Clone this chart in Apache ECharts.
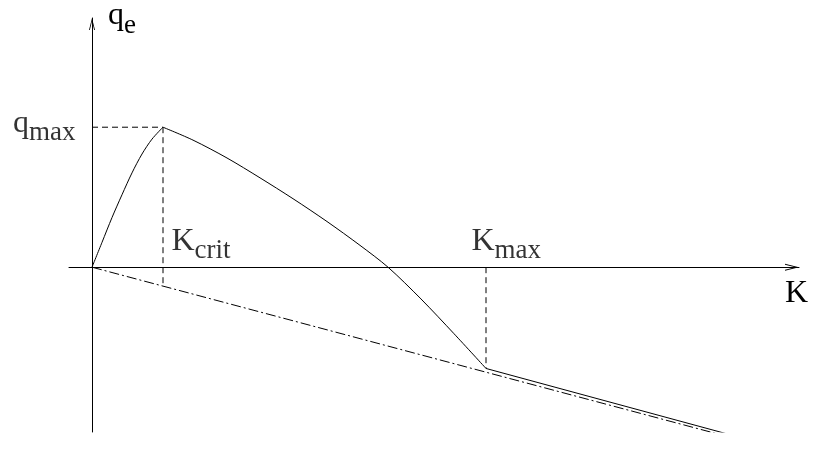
<!DOCTYPE html>
<html>
<head>
<meta charset="utf-8">
<script src="https://cdn.jsdelivr.net/npm/echarts@6/dist/echarts.min.js"></script>
<style>
  html, body { margin: 0; padding: 0; background: #fff; }
  #chart { width: 813px; height: 452px; }
</style>
</head>
<body>
<div id="chart"></div>
<script>
// Effective stiffness q_e as a function of K (schematic units)
const kRise = [0, 1, 2, 3, 4, 5, 6, 7.1];
const qRise = [0, 2.5, 5.0, 7.3, 9.5, 11.4, 12.9, 14.1];
const kFall = [7.1, 10.1, 13.5, 16.8, 20.1, 23.5, 26.8, 29.6, 32.9, 36.2, 39.4];
const qFall = [14.1, 12.8, 11.0, 9.0, 6.9, 4.6, 2.2, 0, -3.2, -6.7, -10.2];
const kTail = [39.4, 68.3];
const qTail = [-10.2, -18.1];
// dash-dot reference line through the origin
const kBase = [0, 67.8];
const qBase = [0, -18.2];
// characteristic values
const kCrit = 7.1;
const kMax = 39.4;
const qMax = 14.1;
const qCritBase = -2.0;
const qKmax = -10.2;
// axis extents
const kRange = [-2.3, 70.7];
const qRange = [-16.6, 25.1];

const FONT = 'Liberation Serif';
const zip = (xs, ys) => xs.map((x, i) => [x, ys[i]]);

// symbol with lowered subscript
function richText() {
  return {
    b: { fontFamily: FONT, fontSize: 32, color: '#000', lineHeight: 32, padding: [0, 0, 7, 0], verticalAlign: 'bottom' },
    s: { fontFamily: FONT, fontSize: 27, color: '#000', lineHeight: 27, verticalAlign: 'bottom' }
  };
}

// open chevron arrow head, tip pointing up
const chevron = 'path://M5,0 L10,20 L8.6,20 L5,5.6 L1.4,20 L0,20 Z';

const solid = { color: '#000', width: 1 };
const dashed = { color: '#000', width: 1, type: [6, 4] };
const dashDot = { color: '#000', width: 1, type: [10, 3, 2, 3] };

function lineSeries(data, style, extra) {
  return Object.assign({
    type: 'line', data: data, symbol: 'none', silent: true, clip: false,
    lineStyle: style
  }, extra || {});
}

const chart = echarts.init(document.getElementById('chart'));
chart.setOption({
  backgroundColor: '#fff',
  animationDuration: 150,
  animationEasing: 'linear',
  grid: { left: 69, right: 14, top: 15, bottom: 20, containLabel: false },
  xAxis: {
    type: 'value', min: kRange[0], max: kRange[1],
    splitLine: { show: false }, axisTick: { show: false }, axisLabel: { show: false },
    axisLine: {
      onZero: true, lineStyle: { color: '#000', width: 1 },
      symbol: ['none', chevron], symbolSize: [7, 14], symbolOffset: [0, -7]
    },
    name: 'K', nameLocation: 'end', nameGap: 9,
    nameTextStyle: { fontFamily: FONT, fontSize: 32, color: '#000', align: 'right', verticalAlign: 'top', padding: [10, 0, 0, 0] }
  },
  yAxis: {
    type: 'value', min: qRange[0], max: qRange[1],
    splitLine: { show: false }, axisTick: { show: false }, axisLabel: { show: false },
    axisLine: {
      onZero: true, lineStyle: { color: '#000', width: 1 },
      symbol: ['none', chevron], symbolSize: [6, 12], symbolOffset: [0, -6]
    },
    name: '{b|q}{s|e}', nameLocation: 'end', nameGap: -21,
    nameTextStyle: { fontFamily: FONT, rich: richText(), align: 'left', verticalAlign: 'bottom', padding: [0, 0, 0, 16] }
  },
  series: [
    lineSeries(zip(kRise, qRise), solid, { smooth: 0.3 }),
    lineSeries(zip(kFall, qFall), solid, { smooth: 0.3 }),
    lineSeries(zip(kTail, qTail), solid),
    lineSeries(zip(kBase, qBase), dashDot),
    lineSeries([[0, qMax], [kCrit, qMax]], dashed),
    lineSeries([[kCrit, qMax], [kCrit, qCritBase]], dashed),
    lineSeries([[kMax, 0], [kMax, qKmax]], dashed),
    {
      type: 'scatter', silent: true, symbolSize: 1, clip: false,
      itemStyle: { color: 'rgba(0,0,0,0)' },
      label: { show: true, fontFamily: FONT },
      data: [
        { value: [0, qMax], label: { rich: richText(), formatter: '{b|q}{s|max}', align: 'right', verticalAlign: 'middle', position: [-16, 4] } },
        { value: [kCrit, 0], label: { rich: richText(), formatter: '{b|K}{s|crit}', align: 'left', verticalAlign: 'bottom', position: [9, -2] } },
        { value: [kMax, 0], label: { rich: richText(), formatter: '{b|K}{s|max}', align: 'left', verticalAlign: 'bottom', position: [-14, -2] } }
      ]
    }
  ]
});
</script>
</body>
</html>
